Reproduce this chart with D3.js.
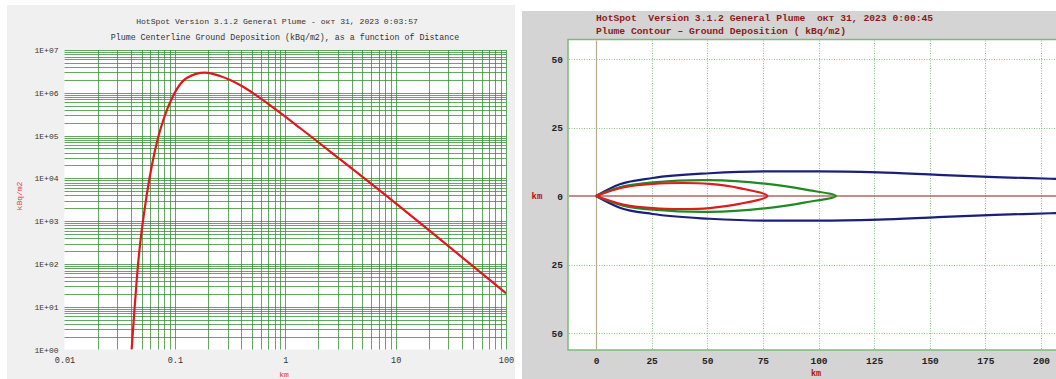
<!DOCTYPE html>
<html>
<head>
<meta charset="utf-8">
<script src="https://cdn.jsdelivr.net/npm/d3@7"></script>
<style>
  body { margin: 0; background: #fff; }
  svg { display: block; }
</style>
</head>
<body>
<div id="chart"></div>
<script>
// ---- donnees ----
// panneau gauche : depot au sol sur l'axe du panache
var distanceKm = [0.0406, 0.0466, 0.0556, 0.0625, 0.0703, 0.0797, 0.0962, 0.128, 0.1875, 0.256, 0.389, 0.514, 0.779, 1.36, 3.13, 9.47, 25.2, 100];
var depositionKBq = [1, 111, 4080, 22900, 87700, 257500, 841000, 2216000, 2948000, 2468000, 1520000, 973000, 448000, 150300, 28000, 2940, 378, 20.6];
var xTickValues = [0.01, 0.1, 1, 10, 100];
var xTickLabels = ["0.01", "0.1", "1", "10", "100"];
var yTickValues = [1, 10, 100, 1000, 10000, 100000, 1000000, 10000000];
var yTickLabels = ["1E+00", "1E+01", "1E+02", "1E+03", "1E+04", "1E+05", "1E+06", "1E+07"];

// panneau droit : contours (distance km, demi-largeur km)
var redX = [0, 12.2, 25.6, 39, 51, 64.4, 77];
var redHalf = [0, 3.1, 4.4, 4.75, 4.4, 2.9, 0];
var greenX = [0, 12.2, 25.6, 51, 77, 94.2, 107.8];
var greenHalf = [0, 3.5, 5.0, 5.8, 4.4, 2.3, 0];
var blueX = [0, 10.7, 25.5, 51, 77, 100, 127, 153.8, 179.3, 204.4, 212];
var blueHalf = [0, 4.27, 6.57, 8.3, 9.0, 9.0, 8.6, 7.7, 6.9, 6.3, 6.1];
var contourXTicks = [0, 25, 50, 75, 100, 125, 150, 175, 200];
var contourYTicks = [50, 25, 0, -25, -50];

var svg = d3.select("#chart").append("svg")
  .attr("width", 1056)
  .attr("height", 379);

function drawDeposition() {
  var left = 64.5, right = 506, top = 50, bottom = 349.5;
  var mono = "'Liberation Mono', 'DejaVu Sans Mono', monospace";

  svg.append("rect")
    .attr("x", 7).attr("y", 5).attr("width", 508).attr("height", 374)
    .attr("fill", "#f0f0f0");
  svg.append("rect")
    .attr("x", left).attr("y", top).attr("width", right - left).attr("height", bottom - top)
    .attr("fill", "#fff");

  var x = d3.scaleLog().domain([0.01, 100]).range([left, right]);
  var y = d3.scaleLog().domain([1, 1e7]).range([bottom, top]);

  // grille : toutes les graduations log
  var g = svg.append("g").attr("stroke", "#2f8a2f").attr("stroke-width", 1);
  g.selectAll(".vx")
    .data(x.ticks().filter(function (d) { return d > 0.0100001; }))
    .enter().append("line")
    .attr("x1", function (d) { return Math.round(x(d)) + 0.5; })
    .attr("x2", function (d) { return Math.round(x(d)) + 0.5; })
    .attr("y1", top).attr("y2", bottom)
    .attr("stroke-opacity", 0.75);
  g.selectAll(".hy")
    .data(y.ticks().filter(function (d) { return d > 1.00001; }))
    .enter().append("line")
    .attr("y1", function (d) { return Math.round(y(d)) + 0.5; })
    .attr("y2", function (d) { return Math.round(y(d)) + 0.5; })
    .attr("x1", left).attr("x2", right)
    .attr("stroke-opacity", 0.75);

  svg.append("clipPath").attr("id", "clipL")
    .append("rect").attr("x", left).attr("y", top - 2).attr("width", right - left).attr("height", bottom - top + 2);

  var line = d3.line()
    .x(function (d, i) { return x(distanceKm[i]); })
    .y(function (d) { return y(d); })
    .curve(d3.curveMonotoneX);

  svg.append("path")
    .attr("clip-path", "url(#clipL)")
    .attr("d", line(depositionKBq))
    .attr("fill", "none")
    .attr("stroke", "#e3161b")
    .attr("stroke-width", 2.2);

  // axes
  var ax = svg.append("g")
    .attr("transform", "translate(0," + (bottom + 4) + ")")
    .call(d3.axisBottom(x).tickValues(xTickValues).tickSize(0)
      .tickFormat(function (d, i) { return xTickLabels[i]; }));
  ax.select(".domain").remove();
  ax.selectAll("text").attr("font-family", mono).attr("font-size", 8.5).attr("fill", "#333");

  var ay = svg.append("g")
    .attr("transform", "translate(" + (left - 6) + ",0)")
    .call(d3.axisLeft(y).tickValues(yTickValues).tickSize(0).tickPadding(0)
      .tickFormat(function (d, i) { return yTickLabels[i]; }));
  ay.select(".domain").remove();
  ay.selectAll("text").attr("font-family", mono).attr("font-size", 8).attr("fill", "#333");

  // titres
  svg.append("text")
    .attr("x", 277).attr("y", 24)
    .attr("text-anchor", "middle")
    .attr("font-family", mono).attr("font-size", 8.1).attr("fill", "#333")
    .text("HotSpot Version 3.1.2 General Plume - окт 31, 2023 0:03:57");
  svg.append("text")
    .attr("x", 285).attr("y", 40)
    .attr("text-anchor", "middle")
    .attr("font-family", mono).attr("font-size", 8.3).attr("fill", "#333")
    .text("Plume Centerline Ground Deposition (kBq/m2), as a function of Distance");
  svg.append("text")
    .attr("x", 284).attr("y", 377)
    .attr("text-anchor", "middle")
    .attr("font-family", mono).attr("font-size", 8).attr("fill", "#e8353b")
    .text("km");
  svg.append("text")
    .attr("transform", "translate(22,196) rotate(-90)")
    .attr("text-anchor", "middle")
    .attr("font-family", mono).attr("font-size", 8).attr("fill", "#e8353b")
    .text("kBq/m2");
}

function drawContour() {
  var left = 568, right = 1056, top = 39.5, bottom = 350;
  var mono = "'Liberation Mono', 'DejaVu Sans Mono', monospace";
  var dark = "#8b1a1a";

  svg.append("rect")
    .attr("x", 522).attr("y", 11).attr("width", 534).attr("height", 368)
    .attr("fill", "#d4d4d4");
  svg.append("rect")
    .attr("x", left).attr("y", top).attr("width", right - left + 4).attr("height", bottom - top)
    .attr("fill", "#fff")
    .attr("stroke", "#7db87d").attr("stroke-width", 1.5);

  var x = d3.scaleLinear().domain([0, 200]).range([596, 1041]);
  var y = d3.scaleLinear().domain([0, 25]).range([196, 127.5]);

  // grille pointillee
  svg.selectAll(".cgx")
    .data(contourXTicks.filter(function (d) { return d !== 0; }))
    .enter().append("line")
    .attr("x1", function (d) { return Math.round(x(d)) + 0.5; })
    .attr("x2", function (d) { return Math.round(x(d)) + 0.5; })
    .attr("y1", top + 1).attr("y2", bottom - 1)
    .attr("stroke", "#8cc08c").attr("stroke-width", 1).attr("stroke-dasharray", "1,1.5");
  svg.selectAll(".cgy")
    .data(contourYTicks.filter(function (d) { return d !== 0; }))
    .enter().append("line")
    .attr("y1", function (d) { return Math.round(y(d)) + 0.5; })
    .attr("y2", function (d) { return Math.round(y(d)) + 0.5; })
    .attr("x1", left + 1).attr("x2", right)
    .attr("stroke", "#8cc08c").attr("stroke-width", 1).attr("stroke-dasharray", "1,1.5");
  svg.append("line")
    .attr("x1", Math.round(x(0)) + 0.5).attr("x2", Math.round(x(0)) + 0.5)
    .attr("y1", top + 1).attr("y2", bottom - 1)
    .attr("stroke", "#b3ab8e").attr("stroke-width", 1.2);
  svg.append("line")
    .attr("y1", y(0)).attr("y2", y(0))
    .attr("x1", left + 1).attr("x2", right)
    .attr("stroke", dark).attr("stroke-width", 1);

  svg.append("clipPath").attr("id", "clipR")
    .append("rect").attr("x", left + 1).attr("y", top + 1).attr("width", right - left).attr("height", bottom - top - 2);

  // contour ferme : bord haut puis bord bas
  function outline(xs, hs) {
    var pts = [];
    for (var i = 0; i < xs.length; i++) pts.push([xs[i], hs[i]]);
    for (var j = xs.length - 2; j >= 0; j--) pts.push([xs[j], -hs[j]]);
    return pts;
  }
  function side(xs, hs, sign) {
    return xs.map(function (v, i) { return [v, sign * hs[i]]; });
  }
  var closedLine = d3.line()
    .x(function (d) { return x(d[0]); })
    .y(function (d) { return y(d[1]); })
    .curve(d3.curveCatmullRom.alpha(0.5));
  var openLine = d3.line()
    .x(function (d) { return x(d[0]); })
    .y(function (d) { return y(d[1]); })
    .curve(d3.curveMonotoneX);

  var plot = svg.append("g").attr("clip-path", "url(#clipR)");

  // le contour bleu sort du cadre : deux bords ouverts
  plot.selectAll(".blue")
    .data([1, -1])
    .enter().append("path")
    .attr("d", function (s) { return openLine(side(blueX, blueHalf, s)); })
    .attr("fill", "none")
    .attr("stroke", "#1b1f7a")
    .attr("stroke-width", 2.2);

  var contours = [
    { xs: greenX, hs: greenHalf, color: "#1f8a23" },
    { xs: redX, hs: redHalf, color: "#e01b1b" }
  ];
  plot.selectAll(".closed")
    .data(contours)
    .enter().append("path")
    .attr("d", function (d) { return closedLine(outline(d.xs, d.hs)); })
    .attr("fill", "none")
    .attr("stroke", function (d) { return d.color; })
    .attr("stroke-width", 2.2);

  // axes
  var ax = svg.append("g")
    .attr("transform", "translate(0," + (bottom + 4) + ")")
    .call(d3.axisBottom(x).tickValues(contourXTicks).tickSize(0));
  ax.select(".domain").remove();
  ax.selectAll("text").attr("font-family", mono).attr("font-size", 9.5)
    .attr("font-weight", "bold").attr("fill", "#222");

  var ay = svg.append("g")
    .attr("transform", "translate(563,0)")
    .call(d3.axisLeft(y).tickValues(contourYTicks).tickSize(0).tickPadding(0)
      .tickFormat(function (d) { return Math.abs(d); }));
  ay.select(".domain").remove();
  ay.selectAll("text").attr("font-family", mono).attr("font-size", 9.5)
    .attr("font-weight", "bold").attr("fill", "#222");

  // titres
  svg.append("text")
    .attr("x", 596).attr("y", 21)
    .attr("font-family", mono).attr("font-size", 9.7).attr("font-weight", "bold")
    .attr("fill", dark).attr("xml:space", "preserve")
    .text("HotSpot  Version 3.1.2 General Plume  окт 31, 2023 0:00:45");
  svg.append("text")
    .attr("x", 596).attr("y", 34)
    .attr("font-family", mono).attr("font-size", 9.7).attr("font-weight", "bold")
    .attr("fill", dark)
    .text("Plume Contour – Ground Deposition ( kBq/m2)");
  svg.append("text")
    .attr("x", 537).attr("y", 199)
    .attr("text-anchor", "middle")
    .attr("font-family", mono).attr("font-size", 9).attr("font-weight", "bold")
    .attr("fill", "#b01010")
    .text("km");
  svg.append("text")
    .attr("x", 816).attr("y", 376)
    .attr("text-anchor", "middle")
    .attr("font-family", mono).attr("font-size", 8.5).attr("font-weight", "bold")
    .attr("fill", "#b01010")
    .text("km");
}

drawDeposition();
drawContour();
</script>
</body>
</html>
